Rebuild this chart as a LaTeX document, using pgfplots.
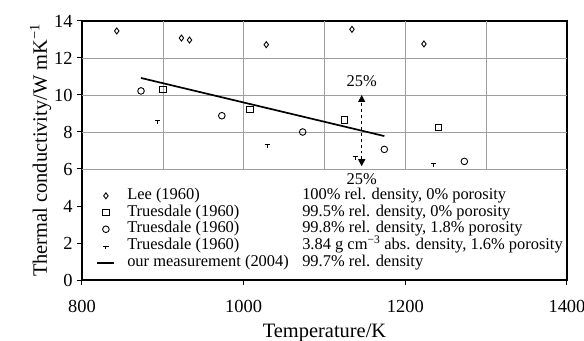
\documentclass[border=0pt]{standalone}
\usepackage{fontspec}
\setmainfont{Liberation Serif}
\usepackage{pgfplots}
\pgfplotsset{compat=1.18}
\usetikzlibrary{arrows.meta}
\pgfdeclareplotmark{tee}{%
  \pgfpathmoveto{\pgfqpoint{-\pgfplotmarksize}{0pt}}%
  \pgfpathlineto{\pgfqpoint{\pgfplotmarksize}{0pt}}%
  \pgfpathmoveto{\pgfqpoint{0pt}{0pt}}%
  \pgfpathlineto{\pgfqpoint{0pt}{-1.2\pgfplotmarksize}}%
  \pgfusepathqstroke}
\newcommand{\legtxt}[2]{\hspace{10bp}\makebox[175bp][l]{#1}#2}
\begin{document}
\begin{tikzpicture}
\begin{axis}[
  scale only axis, width=485bp, height=259bp,
  xmin=800, xmax=1400, ymin=0, ymax=14,
  xtick={800,1000,1200,1400}, ytick={0,2,...,14},
  tick pos=left, tick align=outside,
  major tick length=5bp,
  tick style={black, line width=1bp},
  axis line style={line width=1.3bp},
  /pgf/number format/assume math mode=true,
  /pgf/number format/1000 sep={},
  tick label style={font=\fontsize{18.5}{20}\selectfont},
  xticklabel style={anchor=center, yshift=-21bp},
  yticklabel style={anchor=east, xshift=-1bp},
  xlabel={Temperature/K},
  ylabel={Thermal conductivity/W mK\textsuperscript{−1}},
  label style={font=\fontsize{20.5}{22}\selectfont},
  xlabel style={at={(axis description cs:0.5,0)}, anchor=center, yshift=-53bp},
  ylabel style={yshift=-4bp},
  legend cell align=left,
  legend style={draw=none, fill=none, at={(axis cs:818,5.0)}, anchor=north west,
    inner sep=0pt, outer sep=0pt, row sep=0pt,
    font=\fontsize{16.5}{17}\selectfont,
    nodes={inner ysep=0pt, inner xsep=2bp, text height=12bp, text depth=4.7bp}},
]
% grid (upper region only)
\draw[gray!75, line width=0.6bp] (axis cs:800,6) -- (axis cs:1400,6)
  (axis cs:800,8) -- (axis cs:1400,8)
  (axis cs:800,10) -- (axis cs:1400,10)
  (axis cs:800,12) -- (axis cs:1400,12)
  (axis cs:900,6) -- (axis cs:900,14)
  (axis cs:1000,6) -- (axis cs:1000,14)
  (axis cs:1100,6) -- (axis cs:1100,14)
  (axis cs:1200,6) -- (axis cs:1200,14)
  (axis cs:1300,6) -- (axis cs:1300,14);

\addplot[only marks, mark=diamond, mark size=3bp, line width=0.9bp] coordinates {
 (843,13.46) (923,13.08) (933,12.97) (1028,12.72) (1134,13.55) (1223,12.76)};
\addlegendentry{\legtxt{Lee (1960)}{100\% rel. density, 0\% porosity}}

\addplot[only marks, mark=square, mark size=3.2bp, line width=0.9bp] coordinates {
 (900,10.31) (1008,9.23) (1125,8.65) (1241,8.25)};
\addlegendentry{\legtxt{Truesdale (1960)}{99.5\% rel. density, 0\% porosity}}

\addplot[only marks, mark=o, mark size=3.3bp, line width=0.9bp] coordinates {
 (873,10.22) (973,8.88) (1073,8.0) (1174,7.06) (1273,6.41)};
\addlegendentry{\legtxt{Truesdale (1960)}{99.8\% rel. density, 1.8\% porosity}}

\addplot[only marks, mark=tee, mark size=2.6bp, line width=0.9bp] coordinates {
 (893,8.62) (1029,7.32) (1138,6.68) (1235,6.3)};
\addlegendentry{\legtxt{Truesdale (1960)}{3.84 g cm\textsuperscript{−3} abs. density, 1.6\% porosity}}

\addplot[no marks, line width=1.7bp] coordinates {(873,10.92) (1174,7.78)};
\addlegendentry{\legtxt{our measurement (2004)}{99.7\% rel. density}}

\draw[dashed, line width=1bp, {Triangle[width=7bp,length=7bp]}-{Triangle[width=7bp,length=7bp]}]
  (axis cs:1146,6.15) -- (axis cs:1146,10.0);
\node[font=\fontsize{16.5}{17}\selectfont, inner sep=0pt] at (axis cs:1146,10.75) {25\%};
\node[font=\fontsize{16.5}{17}\selectfont, inner sep=0pt] at (axis cs:1146,5.45) {25\%};
\end{axis}
\pgfresetboundingbox
\useasboundingbox (-82bp,-61bp) rectangle (502bp,280bp);
\end{tikzpicture}
\end{document}
